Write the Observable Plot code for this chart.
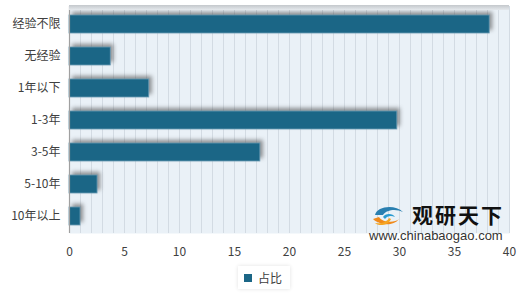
<!DOCTYPE html>
<html><head><meta charset="utf-8">
<script src="https://cdn.jsdelivr.net/npm/d3@7"></script>
<script src="https://cdn.jsdelivr.net/npm/@observablehq/plot@0.6"></script>
<style>
body{margin:0;background:#fff;font-family:"Noto Sans CJK SC","Noto Sans",sans-serif;}
#wrap{position:relative;width:520px;height:293px;overflow:hidden;}
#topstrip{position:absolute;left:69px;top:5px;width:440px;height:5px;background:linear-gradient(#c4c8cc,#e4e8ec);}
#legend{position:absolute;left:238px;top:266px;width:52px;height:23px;background:#fff;box-shadow:0 0 4px rgba(0,0,0,0.12);display:flex;align-items:center;font-size:12px;color:#404040;}
#legend .sw{width:8px;height:8px;background:#1b6686;margin:0 6px 0 6px;}
#wm1{position:absolute;left:412px;top:203px;font-size:21px;line-height:23px;font-weight:bold;color:#111;letter-spacing:2px;}
#wm2{position:absolute;left:369px;top:229px;font-size:13px;line-height:13px;color:#333;font-family:"Liberation Sans",Arial,sans-serif;}
#logo{position:absolute;left:369px;top:203px;}
</style></head>
<body><div id="wrap"><div id="chart"></div><div id="topstrip"></div>
<svg id="logo" width="40" height="26" viewBox="0 0 40 26">
<path d="M6 12 C8 3, 26 1, 34 9 C28 6, 18 6, 14 12 Z" fill="#2a7fb0"/>
<path d="M14 14 C16 10, 24 10, 26 14 C22 12,18 13,16 16 Z" fill="#2a9bd0"/>
<path d="M4 16 C10 22, 24 24, 30 16 C26 20, 14 20, 10 14 Z" fill="#f08a1c"/>
<path d="M22 16 C20 22, 10 24, 6 20 C12 21, 18 19, 20 15 Z" fill="#f5a623"/>
</svg>
<div id="wm1">观研天下</div><div id="wm2">www.chinabaogao.com</div>
<div id="legend"><div class="sw"></div><span>占比</span></div>
</div>
<script>
const categories = ["经验不限","无经验","1年以下","1-3年","3-5年","5-10年","10年以上"];
const values = [38.2, 3.75, 7.25, 29.8, 17.35, 2.55, 1.0];
const xTicks = [0,5,10,15,20,25,30,35,40];
const gridLines = d3.range(0, 41, 1);
const seriesName = "占比";

const data = categories.map((c,i)=>({category:c, value:values[i], series:seriesName}));

const plot = Plot.plot({
  width: 520,
  height: 260,
  marginLeft: 69,
  marginRight: 11,
  marginTop: 6,
  marginBottom: 27,
  style:{fontFamily:'"Noto Sans CJK SC","Noto Sans",sans-serif', fontSize:"12px", color:"#404040", background:"transparent"},
  x:{domain:[0,40], ticks:xTicks, tickSize:0, tickPadding:14, label:null},
  y:{domain:categories, paddingInner:0.44, paddingOuter:0.22, tickSize:0, tickPadding:9, label:null},
  marks:[
    Plot.frame({fill:"#eaf1f7", stroke:"none"}),
    Plot.ruleX(gridLines, {stroke:"#d3dbe3", strokeWidth:1}),
    Plot.barX(data, {x:"value", y:"category", fill:"#3a3a3a", fillOpacity:0.55, dx:3, dy:-3}),
    Plot.barX(data, {x:"value", y:"category", fill:"#1b6686", stroke:"#6a9cb5", strokeWidth:0.8}),
    Plot.ruleX([0], {stroke:"#a0a0a0", strokeWidth:1.2})
  ]
});
document.getElementById("chart").appendChild(plot);
const barGroups = plot.querySelectorAll('g[aria-label="bar"]');
if (barGroups.length) barGroups[0].style.filter = "blur(2px)";
</script>
</body></html>
